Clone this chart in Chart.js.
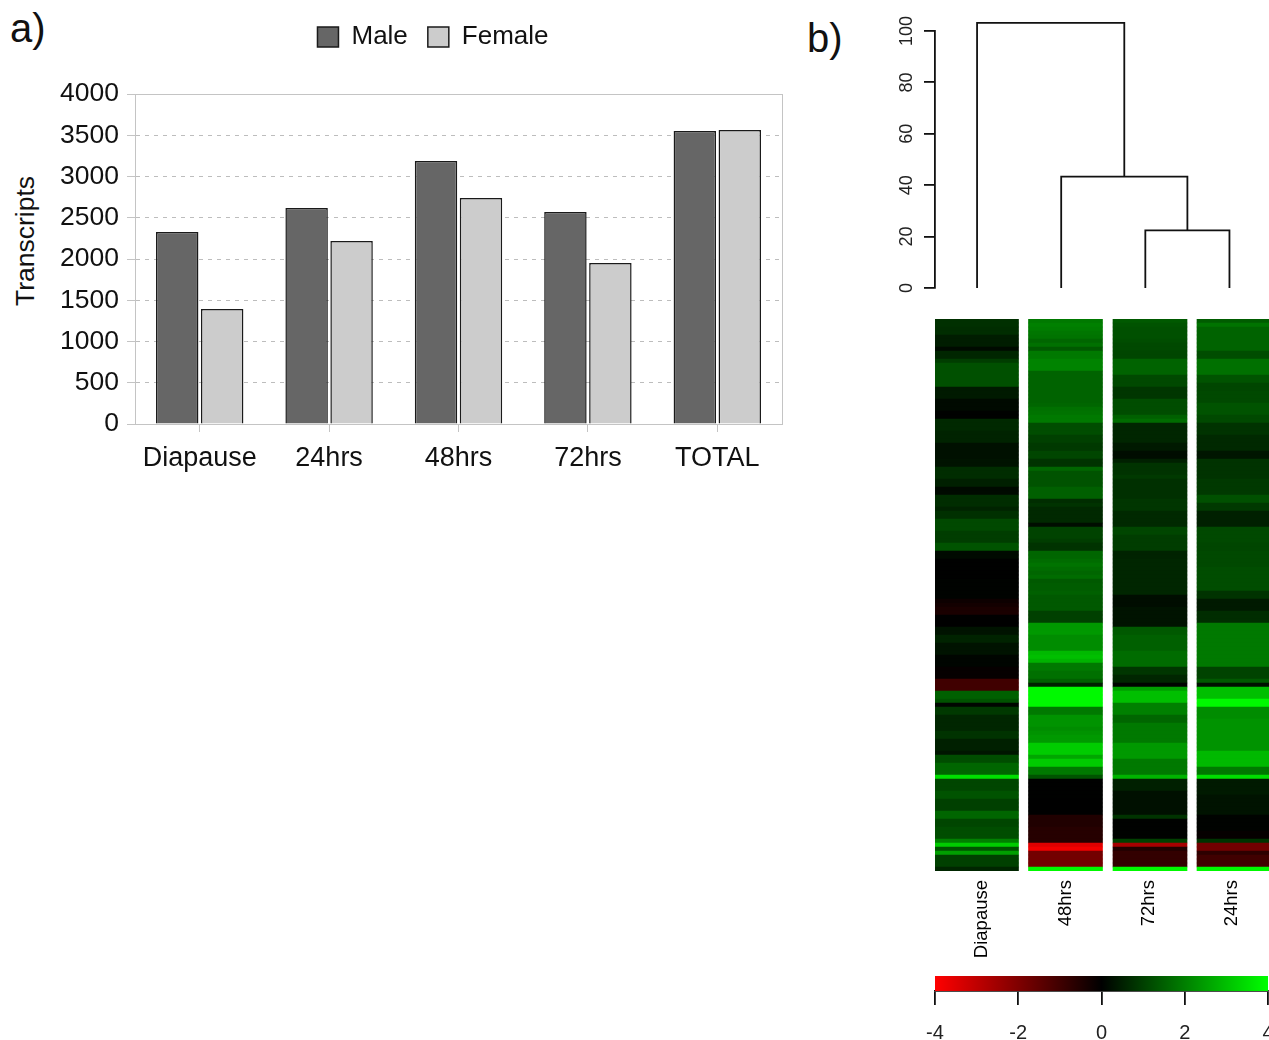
<!DOCTYPE html>
<html>
<head>
<meta charset="utf-8">
<title>Transcripts</title>
<script src="https://cdn.jsdelivr.net/npm/chart.js@4"></script>
<style>
  html, body { margin: 0; padding: 0; width: 1269px; height: 1040px; overflow: hidden; background: #fff; }
  canvas { position: absolute; }
  .lab { position: absolute; font-family: "Liberation Sans", Arial, sans-serif; color: #111; white-space: nowrap; }
  #labelA { left: 10px; top: 5px; font-size: 40px; line-height: 46px; }
  #labelB { left: 807px; top: 15px; font-size: 40px; line-height: 46px; }
  #yTitle { left: 25px; top: 241px; font-size: 26.5px; line-height: 30px; transform: translate(-50%, -50%) rotate(-90deg); }
  #heatChart { filter: blur(.7px); }
  #dendroChart, #keyChart { filter: blur(.4px); }
</style>
</head>
<body>
<div class="lab" id="labelA">a)</div>
<div class="lab" id="labelB">b)</div>
<div class="lab" id="yTitle">Transcripts</div>
<canvas id="barChart" width="866" height="480" style="left:0;top:0"></canvas>
<canvas id="dendroChart" width="389" height="310" style="left:880px;top:0"></canvas>
<canvas id="heatChart" width="344" height="660" style="left:925px;top:310px"></canvas>
<canvas id="keyChart" width="369" height="75" style="left:900px;top:965px"></canvas>
<script>
const FONT = '"Liberation Sans", Arial, sans-serif';

// panel a
const barCategories = ['Diapause', '24hrs', '48hrs', '72hrs', 'TOTAL'];
const maleValues = [2327, 2618, 3188, 2570, 3552];
const femaleValues = [1394, 2218, 2739, 1952, 3564];

// panel b, dendrogram
const leafPositions = [1, 2, 3, 4];
const mergeHeights = [22.4, 43.3, 103.2];
const dendroTicks = [0, 20, 40, 60, 80, 100];

// panel b, heatmap (log ratio per row, top to bottom)
const heatColumns = ['Diapause', '48hrs', '72hrs', '24hrs'];
const diapauseRows = [
  .75,.75,.7,.7,.45,.45,.45,.15,.6,.6,
  .95,1.25,1.25,1.25,1.25,1.25,1.25,.4,.4,.4,
  .15,.15,.15,.03,.03,.65,.65,.65,.55,.55,
  .55,.25,.25,.25,.25,.3,.3,.7,.7,.7,
  .5,.5,.15,.15,.7,.7,.7,.55,.75,.75,
  1.15,1.15,1.15,.95,.95,.95,1.3,1.3,.15,.15,
  .02,.02,.02,.02,.02,.05,.05,.05,.05,.05,
  -.2,-.3,-.4,-.4,0,0,0,.3,.3,.55,
  .55,.3,.3,.3,.08,.08,.08,-.1,-.1,-.1,
  -1,-1,-1,1.5,1.5,1.3,.1,.9,.9,.6,
  .6,.6,.6,.8,.8,.5,.5,.5,.35,1.2,
  1.2,1.6,1.6,1.6,3.5,1.1,1.1,1.1,1.3,1.3,
  1,1,1,1.6,1.6,1.1,1.1,1.2,1.2,1.2,
  2,3.2,1.3,2.5,1,1,1,.6
];
const hrs48Rows = [
  1.9,2,1.95,1.85,1.8,1.6,1.75,1.4,1.9,1.9,
  2.05,2.05,2.05,1.55,1.55,1.55,1.55,1.55,1.55,1.55,
  1.55,1.6,1.75,1.8,1.9,1.9,1.2,1.2,1.2,1,
  1,.9,.9,1.1,1.1,.8,.8,1.6,1.3,1.3,
  1.3,1.3,1.5,1.5,1.5,.7,.8,.65,.65,.65,
  .65,.2,1.05,1.05,1.05,.95,.8,.8,1.6,1.6,
  1.7,1.8,1.7,1.6,1.7,1.4,1.45,1.45,1.5,1.4,
  1.4,1.4,1.4,1,1,1,2.4,2.4,2.4,2.2,
  2.2,2.2,2.2,2.9,3,2.8,1.9,1.9,1.75,1.75,
  1.5,.5,3.9,3.9,3.9,3.9,3.9,1.9,1.9,2.3,
  2.3,2.3,2.2,2.3,2.4,2.4,3.2,3.2,3.2,2.6,
  3.2,3.2,1.9,1.9,1.3,.02,.02,.02,.02,.02,
  0,0,0,0,-.5,-.5,-.5,-.6,-.6,-.6,
  -.6,-3.5,-3.8,-1.8,-1.8,-1.8,-1.8,3.9
];
const hrs72Rows = [
  1.4,1.3,1.25,1.25,1.25,1.2,1.15,1.15,1.1,1.1,
  1.55,1.55,1.55,1.55,1.15,1.15,1.15,.85,.85,.85,
  1.2,1.2,1.2,1.2,1.5,1.7,.6,.6,.6,.6,
  .6,.4,.4,.2,.2,.5,.8,.8,.8,.9,
  .75,.75,.75,.75,.75,.85,.85,.85,.65,.65,
  .65,.65,1.1,1.1,.95,.95,.95,.95,.55,.55,
  .6,.6,.6,.6,.6,.6,.6,.6,.6,.2,
  .2,.2,.3,.3,.3,.3,.3,1.4,1.4,1.5,
  1.5,1.5,1.5,1.7,1.7,1.7,1.7,.85,.85,.6,
  .6,.05,2.5,3,3,3,2,2,2,1.6,
  1.6,1.9,1.9,1.9,1.9,1.9,2.4,2.4,2.4,2.4,
  1.9,1.9,1.9,1.9,2.8,.5,.5,.5,.25,.25,
  .25,.25,.25,.25,.8,.03,.03,.03,.03,.03,
  1,-2.6,-.5,-.8,-.8,-.8,-.8,3.9
];
const hrs24Rows = [
  1.45,1.8,1.55,1.55,1.55,1.55,1.55,1.55,1.2,1.2,
  1.75,1.75,1.75,1.75,1.3,1.3,1.1,1.1,1.15,1.15,
  1.15,1.3,1.3,1.3,1.15,1.15,.8,.8,.8,.65,
  .65,.65,.65,.35,.35,.8,.8,.8,.8,.8,
  .9,.9,.9,.9,1.25,1.25,.9,.9,.5,.5,
  .5,.5,1.15,1.15,1.15,1.15,1.1,1.1,1.15,1.15,
  1.15,1.15,1.2,1.2,1.2,1.2,1.2,1.2,.8,.8,
  .4,.4,.4,.7,.7,.7,1.9,1.9,1.9,1.9,
  1.9,1.9,1.9,1.9,1.9,1.9,1.9,1.05,1.05,1.05,
  1.4,.25,3,3,3,3.9,3.9,2.2,2.2,2.2,
  2.3,2.3,2.3,2.3,2.3,2.3,2.3,2.3,2.9,2.9,
  2.9,2.9,1.9,1.9,3.5,.4,.4,.4,.4,.3,
  .3,.3,.3,.3,.05,.05,.05,.05,-.1,-.1,
  .8,-1.8,-1.8,-.7,-1,-1,-1,3.9
];
const keyTicks = [-4, -2, 0, 2, 4];

// keep the axis box where it belongs, tick labels may hang over the edge
function fixAxis(size) {
  return function(scale) {
    if (scale.isHorizontal()) {
      scale.height = size;
      scale.paddingLeft = 0;
      scale.paddingRight = 0;
    } else {
      scale.width = size;
      scale.paddingTop = 0;
      scale.paddingBottom = 0;
    }
  };
}

function ratioColour(z) {
  const v = Math.round(Math.abs(z) / 4 * 255);
  return z < 0 ? 'rgb(' + v + ',0,0)' : 'rgb(0,' + v + ',0)';
}

// legend is centred on the whole panel and sits higher than the plot
const legendGap = {
  id: 'legendGap',
  beforeInit(chart) {
    const fit = chart.legend.fit;
    chart.legend.fit = function() {
      fit.call(this);
      this.height += 34;
    };
  },
  afterLayout(chart) {
    chart.legend.right = chart.width;
  }
};

const plotFrame = {
  id: 'plotFrame',
  beforeDatasetsDraw(chart) {
    const a = chart.chartArea;
    const c = chart.ctx;
    c.save();
    c.strokeStyle = '#c4c4c4';
    c.lineWidth = 1;
    c.strokeRect(a.left + .5, a.top + .5, a.right - a.left, a.bottom - a.top);
    c.restore();
  }
};

new Chart(document.getElementById('barChart'), {
  type: 'bar',
  data: {
    labels: barCategories,
    datasets: [
      { label: 'Male', data: maleValues, backgroundColor: '#666666', borderColor: '#1a1a1a', borderWidth: 1.5 },
      { label: 'Female', data: femaleValues, backgroundColor: '#cccccc', borderColor: '#1a1a1a', borderWidth: 1.5 }
    ]
  },
  plugins: [legendGap, plotFrame],
  options: {
    responsive: false,
    animation: false,
    layout: { padding: { top: 4, right: 84, bottom: 0, left: 0 } },
    datasets: { bar: { categoryPercentage: .695, barPercentage: .944 } },
    plugins: {
      tooltip: { enabled: false },
      legend: {
        labels: {
          boxWidth: 21, boxHeight: 20, padding: 20, color: '#111',
          font: { family: FONT, size: 26 }
        }
      }
    },
    scales: {
      x: {
        offset: true,
        afterFit: fixAxis(56),
        border: { color: '#c4c4c4' },
        grid: { offset: false, drawOnChartArea: false, tickLength: 8, color: '#c4c4c4' },
        ticks: { color: '#111', padding: 10, maxRotation: 0, font: { family: FONT, size: 27 } }
      },
      y: {
        min: 0, max: 4000,
        afterFit: fixAxis(135),
        border: { color: '#c4c4c4', dash: [4, 5] },
        grid: { color: '#bdbdbd', tickLength: 8, tickBorderDash: [], tickColor: '#c4c4c4' },
        ticks: {
          stepSize: 500, color: '#111', padding: 8, font: { family: FONT, size: 26.5 },
          callback(value) { return String(value); }
        }
      }
    }
  }
});

function dendroLink(x1, y1, x2, y2, h) {
  return {
    data: [{ x: x1, y: y1 }, { x: x1, y: h }, { x: x2, y: h }, { x: x2, y: y2 }],
    showLine: true, borderColor: '#111', borderWidth: 1.8, pointRadius: 0, clip: false, tension: 0
  };
}

const node34 = (leafPositions[2] + leafPositions[3]) / 2;
const node234 = (leafPositions[1] + node34) / 2;

new Chart(document.getElementById('dendroChart'), {
  type: 'scatter',
  data: {
    datasets: [
      dendroLink(leafPositions[2], 0, leafPositions[3], 0, mergeHeights[0]),
      dendroLink(leafPositions[1], 0, node34, mergeHeights[0], mergeHeights[1]),
      dendroLink(leafPositions[0], 0, node234, mergeHeights[1], mergeHeights[2])
    ]
  },
  options: {
    responsive: false,
    animation: false,
    layout: { padding: { top: 31, right: 0, bottom: 22, left: 0 } },
    plugins: { legend: { display: false }, tooltip: { enabled: false } },
    scales: {
      x: { display: false, min: .5, max: 4.47 },
      y: {
        min: 0, max: 100,
        afterFit: fixAxis(55),
        afterBuildTicks(scale) { scale.ticks = dendroTicks.map(v => ({ value: v })); },
        border: { color: '#111', width: 1.8 },
        grid: { drawOnChartArea: false, tickLength: 11, color: '#111', lineWidth: 1.8 },
        ticks: {
          color: '#222', padding: 2, minRotation: 90, maxRotation: 90, crossAlign: 'center',
          font: { family: FONT, size: 18 }
        }
      }
    }
  }
});

// heatmap columns on a plain width scale, the first column is the wide one
const heatSpans = [[0, 83.5], [93.5, 167.5], [178, 252], [262, 334]];
const heatLabelAt = [47, 130.5, 214, 297];
const heatSeries = [diapauseRows, hrs48Rows, hrs72Rows, hrs24Rows];

new Chart(document.getElementById('heatChart'), {
  type: 'bar',
  data: {
    labels: diapauseRows.map((v, i) => i),
    datasets: heatColumns.map((name, c) => ({
      label: name,
      data: heatSeries[c].map(() => heatSpans[c]),
      backgroundColor: heatSeries[c].map(ratioColour),
      borderWidth: 0,
      grouped: false,
      barPercentage: 1,
      categoryPercentage: 1
    }))
  },
  options: {
    indexAxis: 'y',
    responsive: false,
    animation: false,
    layout: { padding: { top: 9, right: 0, bottom: 0, left: 10 } },
    plugins: { legend: { display: false }, tooltip: { enabled: false } },
    scales: {
      y: { display: false },
      x: {
        min: 0, max: 334,
        afterFit: fixAxis(99),
        afterBuildTicks(scale) { scale.ticks = heatLabelAt.map(v => ({ value: v })); },
        border: { display: false },
        grid: { display: false, drawTicks: false, tickLength: 0 },
        ticks: {
          color: '#000', padding: 9, minRotation: 90, maxRotation: 90, autoSkip: false,
          font: { family: FONT, size: 18.5 },
          callback(value, i) { return heatColumns[i]; }
        }
      }
    }
  }
});

new Chart(document.getElementById('keyChart'), {
  type: 'bar',
  data: {
    labels: ['key'],
    datasets: [{
      data: [[keyTicks[0], keyTicks[4]]],
      borderWidth: 0,
      barPercentage: 1,
      categoryPercentage: 1,
      backgroundColor(ctx) {
        const area = ctx.chart.chartArea;
        if (!area) return '#000';
        const g = ctx.chart.ctx.createLinearGradient(area.left, 0, area.right, 0);
        g.addColorStop(0, ratioColour(keyTicks[0]));
        g.addColorStop(.5, ratioColour(keyTicks[2]));
        g.addColorStop(1, ratioColour(keyTicks[4]));
        return g;
      }
    }]
  },
  options: {
    indexAxis: 'y',
    responsive: false,
    animation: false,
    layout: { padding: { top: 11, right: 1, bottom: 0, left: 35 } },
    plugins: { legend: { display: false }, tooltip: { enabled: false } },
    scales: {
      y: { display: false },
      x: {
        min: -4, max: 4,
        afterFit: fixAxis(49),
        afterBuildTicks(scale) { scale.ticks = keyTicks.map(v => ({ value: v })); },
        border: { color: '#111', width: 1.8 },
        grid: { drawOnChartArea: false, tickLength: 14, color: '#111', lineWidth: 1.8 },
        ticks: { color: '#222', padding: 16, maxRotation: 0, autoSkip: false, font: { family: FONT, size: 20 } }
      }
    }
  }
});
</script>
</body>
</html>
